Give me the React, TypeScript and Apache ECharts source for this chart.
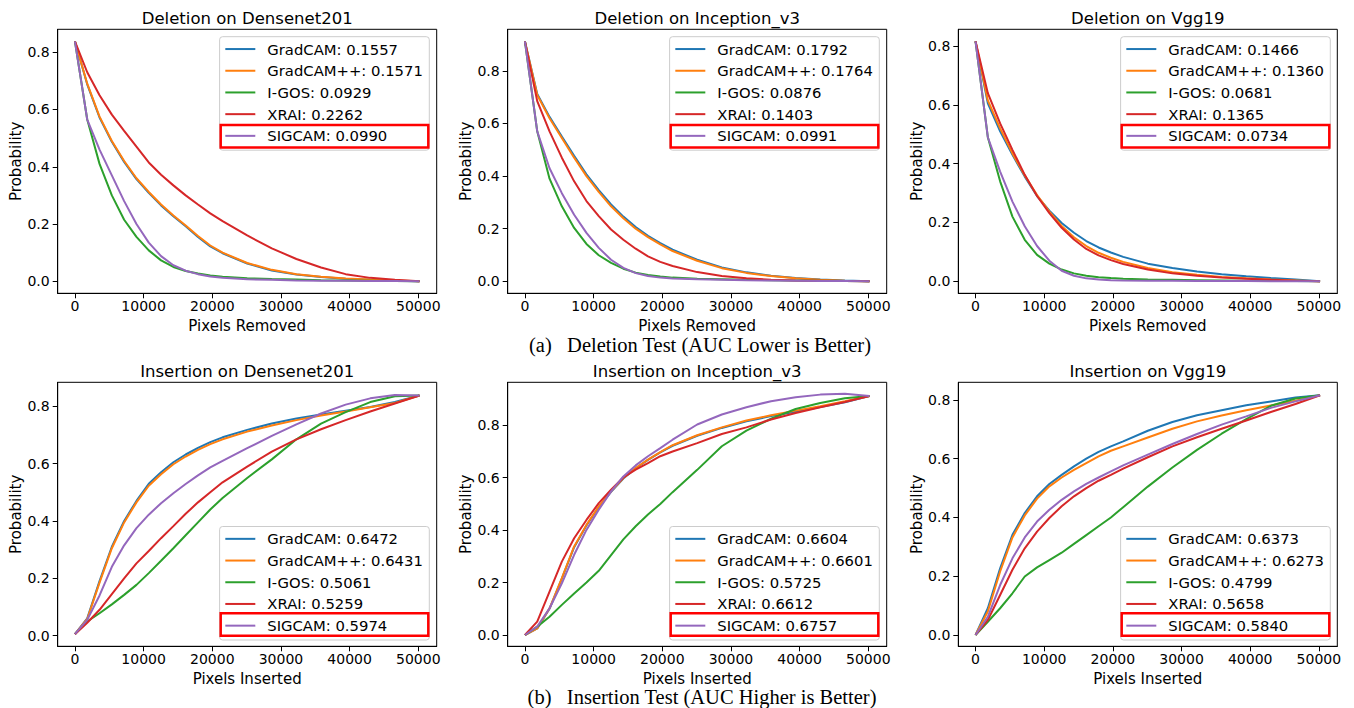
import React, { useEffect, useRef } from 'react';
import * as echarts from 'echarts';

// ---------- data ----------
const PIXELS = [0, 1792, 3584, 5376, 7168, 8960, 10752, 12544, 14336, 16128, 17920, 19712, 21504, 25088, 28672, 32256, 35840, 39424, 43008, 46592, 50176];
const METHODS = ['GradCAM', 'GradCAM++', 'I-GOS', 'XRAI', 'SIGCAM'];
const COLORS = ['#1f77b4', '#ff7f0e', '#2ca02c', '#d62728', '#9467bd'];
const X_TICKS = [0, 10000, 20000, 30000, 40000, 50000];
const Y_TICKS = [0, 0.2, 0.4, 0.6, 0.8];

// Deletion on Densenet201
const delDenseAUC = ['0.1557', '0.1571', '0.0929', '0.2262', '0.0990'];
const delDenseGradCAM = [0.838, 0.688, 0.572, 0.487, 0.417, 0.357, 0.309, 0.265, 0.227, 0.192, 0.155, 0.122, 0.098, 0.062, 0.038, 0.024, 0.015, 0.009, 0.005, 0.002, 0];
const delDenseGradCAMpp = [0.838, 0.69, 0.575, 0.49, 0.42, 0.36, 0.312, 0.268, 0.23, 0.195, 0.158, 0.125, 0.1, 0.064, 0.04, 0.025, 0.016, 0.01, 0.006, 0.003, 0];
const delDenseIGOS = [0.838, 0.565, 0.41, 0.3, 0.215, 0.155, 0.108, 0.073, 0.05, 0.036, 0.027, 0.02, 0.016, 0.011, 0.008, 0.006, 0.004, 0.003, 0.002, 0.001, 0];
const delDenseXRAI = [0.838, 0.73, 0.65, 0.582, 0.525, 0.47, 0.415, 0.372, 0.335, 0.3, 0.268, 0.237, 0.21, 0.16, 0.115, 0.078, 0.048, 0.025, 0.012, 0.005, 0];
const delDenseSIGCAM = [0.838, 0.565, 0.46, 0.37, 0.28, 0.2, 0.135, 0.088, 0.056, 0.037, 0.025, 0.017, 0.012, 0.007, 0.005, 0.003, 0.002, 0.002, 0.001, 0.001, 0];

// Deletion on Inception_v3
const delIncAUC = ['0.1792', '0.1764', '0.0876', '0.1403', '0.0991'];
const delIncGradCAM = [0.912, 0.712, 0.625, 0.55, 0.477, 0.407, 0.347, 0.292, 0.246, 0.206, 0.173, 0.145, 0.12, 0.082, 0.053, 0.034, 0.021, 0.013, 0.007, 0.003, 0];
const delIncGradCAMpp = [0.912, 0.708, 0.62, 0.545, 0.47, 0.4, 0.34, 0.285, 0.24, 0.2, 0.168, 0.14, 0.115, 0.078, 0.05, 0.032, 0.02, 0.012, 0.006, 0.002, 0];
const delIncIGOS = [0.912, 0.57, 0.39, 0.285, 0.203, 0.142, 0.099, 0.07, 0.048, 0.033, 0.024, 0.018, 0.014, 0.01, 0.008, 0.006, 0.004, 0.003, 0.002, 0.001, 0];
const delIncXRAI = [0.912, 0.685, 0.57, 0.47, 0.38, 0.305, 0.248, 0.197, 0.158, 0.124, 0.095, 0.074, 0.058, 0.035, 0.02, 0.012, 0.006, 0.003, 0.002, 0.001, 0];
const delIncSIGCAM = [0.912, 0.57, 0.43, 0.335, 0.253, 0.184, 0.127, 0.082, 0.051, 0.031, 0.02, 0.014, 0.011, 0.008, 0.006, 0.004, 0.003, 0.002, 0.001, 0.001, 0];

// Deletion on Vgg19
const delVggAUC = ['0.1466', '0.1360', '0.0681', '0.1365', '0.0734'];
const delVggGradCAM = [0.816, 0.605, 0.51, 0.43, 0.356, 0.29, 0.24, 0.198, 0.165, 0.137, 0.115, 0.098, 0.083, 0.06, 0.045, 0.033, 0.024, 0.017, 0.011, 0.006, 0];
const delVggGradCAMpp = [0.816, 0.615, 0.52, 0.435, 0.36, 0.293, 0.237, 0.188, 0.15, 0.12, 0.097, 0.08, 0.066, 0.045, 0.031, 0.022, 0.015, 0.01, 0.006, 0.003, 0];
const delVggIGOS = [0.816, 0.49, 0.34, 0.22, 0.141, 0.09, 0.06, 0.04, 0.027, 0.019, 0.014, 0.011, 0.009, 0.006, 0.005, 0.004, 0.003, 0.002, 0.001, 0.001, 0];
const delVggXRAI = [0.816, 0.64, 0.537, 0.447, 0.362, 0.29, 0.232, 0.182, 0.142, 0.11, 0.088, 0.072, 0.059, 0.04, 0.027, 0.019, 0.013, 0.009, 0.005, 0.002, 0];
const delVggSIGCAM = [0.816, 0.49, 0.373, 0.271, 0.187, 0.12, 0.07, 0.036, 0.019, 0.01, 0.006, 0.004, 0.003, 0.002, 0.002, 0.001, 0.001, 0.001, 0.0005, 0.0005, 0];

// Insertion on Densenet201
const insDenseAUC = ['0.6472', '0.6431', '0.5061', '0.5259', '0.5974'];
const insDenseGradCAM = [0.005, 0.06, 0.19, 0.31, 0.4, 0.47, 0.53, 0.57, 0.605, 0.632, 0.655, 0.675, 0.692, 0.718, 0.74, 0.758, 0.772, 0.785, 0.798, 0.815, 0.838];
const insDenseGradCAMpp = [0.005, 0.058, 0.185, 0.305, 0.395, 0.465, 0.523, 0.563, 0.598, 0.625, 0.648, 0.668, 0.685, 0.712, 0.733, 0.752, 0.768, 0.782, 0.797, 0.812, 0.838];
const insDenseIGOS = [0.005, 0.049, 0.078, 0.109, 0.142, 0.177, 0.218, 0.261, 0.305, 0.35, 0.395, 0.44, 0.48, 0.55, 0.615, 0.685, 0.74, 0.78, 0.815, 0.835, 0.838];
const insDenseXRAI = [0.005, 0.045, 0.09, 0.145, 0.2, 0.252, 0.295, 0.34, 0.382, 0.425, 0.465, 0.5, 0.535, 0.59, 0.642, 0.685, 0.72, 0.752, 0.782, 0.81, 0.838];
const insDenseSIGCAM = [0.005, 0.055, 0.14, 0.24, 0.315, 0.375, 0.422, 0.462, 0.497, 0.529, 0.559, 0.587, 0.61, 0.654, 0.697, 0.737, 0.775, 0.806, 0.828, 0.84, 0.838];

// Insertion on Inception_v3
const insIncAUC = ['0.6604', '0.6601', '0.5725', '0.6612', '0.6757'];
const insIncGradCAM = [0, 0.025, 0.1, 0.215, 0.335, 0.418, 0.488, 0.546, 0.597, 0.636, 0.668, 0.697, 0.722, 0.76, 0.79, 0.815, 0.835, 0.852, 0.87, 0.888, 0.912];
const insIncGradCAMpp = [0, 0.025, 0.102, 0.217, 0.338, 0.42, 0.49, 0.548, 0.599, 0.637, 0.669, 0.698, 0.724, 0.762, 0.792, 0.818, 0.838, 0.856, 0.873, 0.892, 0.912];
const insIncIGOS = [0, 0.032, 0.07, 0.115, 0.158, 0.2, 0.245, 0.305, 0.365, 0.415, 0.46, 0.5, 0.545, 0.63, 0.72, 0.78, 0.825, 0.862, 0.885, 0.903, 0.912];
const insIncXRAI = [0, 0.051, 0.166, 0.28, 0.369, 0.439, 0.503, 0.554, 0.601, 0.631, 0.656, 0.682, 0.7, 0.732, 0.767, 0.792, 0.822, 0.847, 0.869, 0.889, 0.912];
const insIncSIGCAM = [0, 0.032, 0.102, 0.197, 0.306, 0.401, 0.478, 0.548, 0.605, 0.647, 0.682, 0.713, 0.745, 0.803, 0.841, 0.869, 0.892, 0.907, 0.917, 0.92, 0.912];

// Insertion on Vgg19
const insVggAUC = ['0.6373', '0.6273', '0.4799', '0.5658', '0.5840'];
const insVggGradCAM = [0, 0.091, 0.227, 0.341, 0.415, 0.472, 0.514, 0.545, 0.574, 0.6, 0.623, 0.642, 0.659, 0.695, 0.725, 0.748, 0.765, 0.782, 0.795, 0.808, 0.816];
const insVggGradCAMpp = [0, 0.08, 0.216, 0.332, 0.407, 0.464, 0.506, 0.536, 0.562, 0.585, 0.608, 0.627, 0.642, 0.672, 0.702, 0.727, 0.747, 0.765, 0.781, 0.797, 0.816];
const insVggIGOS = [0, 0.045, 0.091, 0.142, 0.199, 0.23, 0.255, 0.28, 0.31, 0.34, 0.37, 0.4, 0.435, 0.505, 0.57, 0.63, 0.685, 0.735, 0.78, 0.805, 0.816];
const insVggXRAI = [0, 0.051, 0.136, 0.222, 0.295, 0.352, 0.398, 0.438, 0.472, 0.5, 0.525, 0.545, 0.566, 0.605, 0.642, 0.673, 0.702, 0.73, 0.759, 0.786, 0.816];
const insVggSIGCAM = [0, 0.062, 0.17, 0.261, 0.332, 0.386, 0.426, 0.46, 0.489, 0.514, 0.536, 0.557, 0.577, 0.614, 0.65, 0.684, 0.716, 0.744, 0.773, 0.795, 0.816];

// ---------- layout ----------
const FONT = 'DejaVu Sans';
const GRID_W = 379;
const GRID_H = 264;

const PANELS = [
  { title: 'Deletion on Densenet201', xName: 'Pixels Removed', auc: delDenseAUC, series: [delDenseGradCAM, delDenseGradCAMpp, delDenseIGOS, delDenseXRAI, delDenseSIGCAM], left: 57.7, top: 29.3, yMin: -0.0419, yMax: 0.88, legendRight: 429.3, upper: true },
  { title: 'Deletion on Inception_v3', xName: 'Pixels Removed', auc: delIncAUC, series: [delIncGradCAM, delIncGradCAMpp, delIncIGOS, delIncXRAI, delIncSIGCAM], left: 507.7, top: 29.3, yMin: -0.0456, yMax: 0.958, legendRight: 879.3, upper: true },
  { title: 'Deletion on Vgg19', xName: 'Pixels Removed', auc: delVggAUC, series: [delVggGradCAM, delVggGradCAMpp, delVggIGOS, delVggXRAI, delVggSIGCAM], left: 958.3, top: 29.3, yMin: -0.0408, yMax: 0.857, legendRight: 1330.3, upper: true },
  { title: 'Insertion on Densenet201', xName: 'Pixels Inserted', auc: insDenseAUC, series: [insDenseGradCAM, insDenseGradCAMpp, insDenseIGOS, insDenseXRAI, insDenseSIGCAM], left: 57.7, top: 382.3, yMin: -0.0374, yMax: 0.884, legendRight: 429.3, upper: false },
  { title: 'Insertion on Inception_v3', xName: 'Pixels Inserted', auc: insIncAUC, series: [insIncGradCAM, insIncGradCAMpp, insIncIGOS, insIncXRAI, insIncSIGCAM], left: 507.7, top: 382.3, yMin: -0.043, yMax: 0.964, legendRight: 879.3, upper: false },
  { title: 'Insertion on Vgg19', xName: 'Pixels Inserted', auc: insVggAUC, series: [insVggGradCAM, insVggGradCAMpp, insVggIGOS, insVggXRAI, insVggSIGCAM], left: 958.3, top: 382.3, yMin: -0.0385, yMax: 0.86, legendRight: 1330.3, upper: false },
];

const CAPTIONS = [
  { text: '(a)\u00a0\u00a0\u00a0Deletion Test (AUC Lower is Better)', x: 700, y: 345 },
  { text: '(b)\u00a0\u00a0\u00a0Insertion Test (AUC Higher is Better)', x: 702, y: 697 },
];

function buildOption() {
  const grid: any[] = [];
  const xAxis: any[] = [];
  const yAxis: any[] = [];
  const series: any[] = [];
  const legend: any[] = [];
  const title: any[] = [];
  const graphic: any[] = [];

  PANELS.forEach((p, pi) => {
    grid.push({ left: p.left, top: p.top, width: GRID_W, height: GRID_H, show: true, borderColor: '#000', borderWidth: 1, backgroundColor: 'transparent' });
    xAxis.push({
      type: 'value', gridIndex: pi, min: -2509, max: 52685,
      name: p.xName, nameLocation: 'middle', nameGap: 25,
      nameTextStyle: { fontFamily: FONT, fontSize: 15, color: '#000' },
      splitLine: { show: false },
      axisLine: { show: true, onZero: false, lineStyle: { color: '#000', width: 1 } },
      axisTick: { show: true, customValues: X_TICKS, length: 5, lineStyle: { color: '#000', width: 1 } },
      axisLabel: { show: true, customValues: X_TICKS, margin: 6, fontFamily: FONT, fontSize: 14, color: '#000', formatter: (v: number) => String(v) },
    });
    yAxis.push({
      type: 'value', gridIndex: pi, min: p.yMin, max: p.yMax,
      name: 'Probability', nameLocation: 'middle', nameGap: 32,
      nameTextStyle: { fontFamily: FONT, fontSize: 15, color: '#000' },
      splitLine: { show: false },
      axisLine: { show: true, onZero: false, lineStyle: { color: '#000', width: 1 } },
      axisTick: { show: true, customValues: Y_TICKS, length: 5, lineStyle: { color: '#000', width: 1 } },
      axisLabel: { show: true, customValues: Y_TICKS, margin: 8, fontFamily: FONT, fontSize: 14, color: '#000', formatter: (v: number) => v.toFixed(1) },
    });
    const names: string[] = [];
    p.series.forEach((vals, mi) => {
      const name = `${METHODS[mi]}: ${p.auc[mi]}`;
      names.push(name);
      series.push({
        type: 'line', name, xAxisIndex: pi, yAxisIndex: pi,
        data: PIXELS.map((x, i) => [x, vals[i]]),
        symbol: 'none', showSymbol: false, smooth: false,
        lineStyle: { color: COLORS[mi], width: 2 },
        itemStyle: { color: COLORS[mi] },
        emphasis: { disabled: true },
      });
    });
    const leg: any = {
      data: names, orient: 'vertical', right: 1354 - p.legendRight,
      icon: 'rect', itemWidth: 30, itemHeight: 2, itemGap: 0,
      selectedMode: false,
      backgroundColor: 'rgba(255,255,255,0.8)', borderColor: '#cccccc', borderWidth: 1, borderRadius: 3,
      padding: [1.5, 6.5, 3.5, 5.7],
      textStyle: { fontFamily: FONT, fontSize: 14.8, color: '#000', lineHeight: 21.7, padding: [0, 0, 0, 7] },
    };
    if (p.upper) leg.top = p.top + 7.4; else leg.bottom = 708 - 640;
    legend.push(leg);
    title.push({
      text: p.title, left: p.left + GRID_W / 2, top: p.top - 19.5, textAlign: 'center', padding: 0,
      textStyle: { fontFamily: FONT, fontSize: 16.5, fontWeight: 'normal', color: '#000' },
    });
    const ry = p.upper ? 125 : 613.3;
    graphic.push({
      type: 'rect', z: 100,
      shape: { x: p.legendRight - 208.6, y: ry, width: 207.6, height: 22.5 },
      style: { fill: 'none', stroke: '#ff0000', lineWidth: 2.5 },
    });
  });

  CAPTIONS.forEach((c) => {
    graphic.push({
      type: 'text', x: c.x, y: c.y, z: 100,
      style: { text: c.text, font: '20.5px "Liberation Serif", serif', fill: '#000', align: 'center', verticalAlign: 'middle', textAlign: 'center', textVerticalAlign: 'middle' },
    });
  });

  return {
    animation: false, backgroundColor: '#fff',
    textStyle: { fontFamily: FONT, fontSize: 14 },
    grid, xAxis, yAxis, series, legend, title, graphic,
  };
}

export default function App() {
  const ref = useRef<HTMLDivElement>(null);
  useEffect(() => {
    document.body.style.margin = '0';
    if (!ref.current) return;
    const chart = echarts.init(ref.current, undefined, { renderer: 'svg' });
    chart.setOption(buildOption() as any);
    return () => chart.dispose();
  }, []);
  return <div ref={ref} style={{ width: 1354, height: 708 }} />;
}
